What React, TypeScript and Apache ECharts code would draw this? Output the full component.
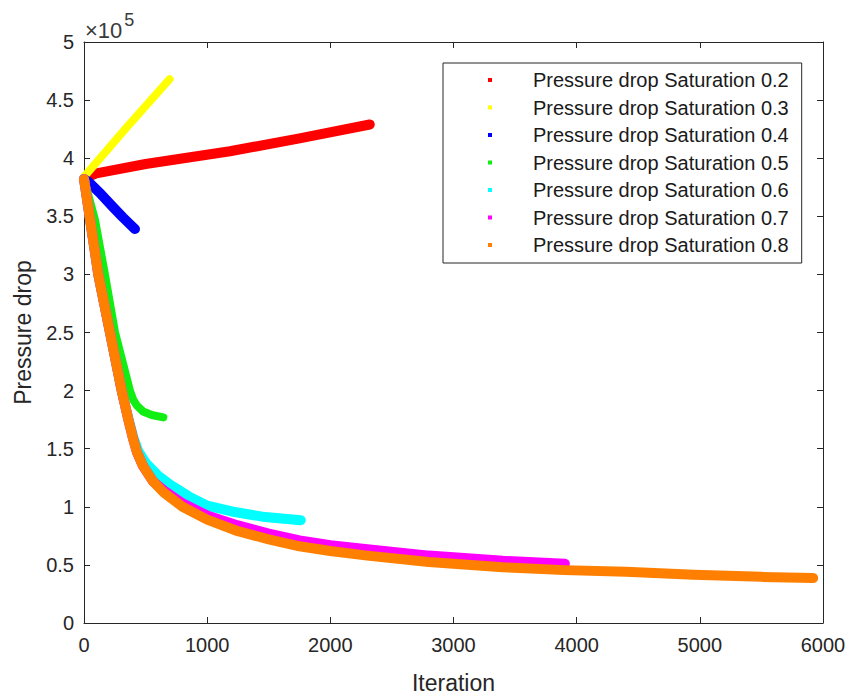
import React, { useEffect, useRef } from 'react';
import * as echarts from 'echarts';

// ---- data (Pressure drop in Pa, iteration) ----
const seriesNames = [
  'Pressure drop Saturation 0.2',
  'Pressure drop Saturation 0.3',
  'Pressure drop Saturation 0.4',
  'Pressure drop Saturation 0.5',
  'Pressure drop Saturation 0.6',
  'Pressure drop Saturation 0.7',
  'Pressure drop Saturation 0.8',
];

const iter02 = [30, 100, 500, 1185, 1750, 2320];
const p02 = [384000, 387000, 395000, 406000, 417000, 429000];

const iter03 = [0, 350, 695];
const p03 = [384000, 427000, 468000];

const iter04 = [0, 32, 130, 235, 317, 414];
const p04 = [382000, 380000, 370000, 358000, 349000, 339000];

const iter05 = [0, 89, 170, 252, 373, 400, 430, 480, 550, 644];
const p05 = [382000, 347000, 300000, 250000, 200000, 192000, 187000, 182000, 179000, 177000];

const iter06 = [0, 116, 211, 306, 360, 400, 440, 500, 600, 700, 850, 1000, 1200, 1450, 1760];
const p06 = [382000, 300000, 250000, 200000, 176000, 160000, 148000, 138000, 127000, 119000, 109000, 101000, 96000, 91500, 88500];

const iter07 = [0, 116, 211, 306, 360, 400, 430, 480, 560, 650, 800, 1000, 1250, 1500, 1750, 2000, 2300, 2800, 3400, 3904];
const p07 = [382000, 300000, 250000, 200000, 175000, 158000, 147000, 135000, 122000, 114000, 103000, 92500, 84000, 77000, 71000, 67000, 63500, 58000, 53500, 51000];

const iter08 = [0, 116, 211, 306, 360, 400, 430, 480, 560, 650, 800, 1000, 1250, 1500, 1750, 2000, 2300, 2800, 3400, 3900, 4400, 4950, 5500, 5920];
const p08 = [382000, 300000, 250000, 200000, 175000, 158000, 147000, 135000, 122000, 112000, 100000, 89000, 79000, 72000, 66000, 62000, 58000, 52500, 48000, 45500, 44000, 41500, 39700, 38700];

const xTicks = { min: 0, max: 6000, interval: 1000 };
const yTicks = { min: 0, max: 500000, interval: 50000 };
const yScale = 100000;
const exponentBase = '×10';
const exponent = '5';

// ---- styles ----
const colors = ['#ff0000', '#ffff00', '#0000ff', '#11ee11', '#00ffff', '#ff00ff', '#ff7f00'];
const widths = [10, 8, 10, 8, 10, 10, 10];
const FONT = '"Liberation Sans", Arial, Helvetica, sans-serif';
const INK = '#262626';

const allIters = [iter02, iter03, iter04, iter05, iter06, iter07, iter08];
const allP = [p02, p03, p04, p05, p06, p07, p08];

export default function App() {
  const ref = useRef<HTMLDivElement>(null);
  useEffect(() => {
    document.body.style.margin = '0';
    const chart = echarts.init(ref.current!, null, { renderer: 'svg' });

    const series = seriesNames.map((name, i) => ({
      name,
      type: 'line',
      data: allIters[i].map((x, k) => [x, allP[i][k]]),
      showSymbol: false,
      symbol: 'none',
      itemStyle: { color: colors[i] },
      lineStyle: { color: colors[i], width: widths[i], cap: 'round', join: 'round' },
      emphasis: { disabled: true },
      z: 2 + i,
    }));

    const axisCommon = {
      axisLine: { show: true, onZero: false, lineStyle: { color: INK, width: 1 } },
      axisTick: { show: true, inside: true, length: 6, lineStyle: { color: INK } },
      splitLine: { show: false },
    };

    chart.setOption({
      animation: false,
      backgroundColor: '#ffffff',
      textStyle: { fontFamily: FONT },
      title: {
        left: 85,
        top: 11,
        padding: 0,
        text: `{a|${exponentBase}}{b|${exponent}}`,
        textStyle: {
          fontFamily: FONT,
          fontWeight: 'normal',
          rich: {
            a: { fontSize: 22, lineHeight: 30, fontWeight: 'normal', color: '#3a3a3a', fontFamily: FONT, verticalAlign: 'bottom' },
            b: { fontSize: 18, lineHeight: 18, fontWeight: 'normal', color: '#3a3a3a', fontFamily: FONT, verticalAlign: 'top', padding: [0, 0, 0, 2] },
          },
        },
      },
      grid: { left: 84, right: 30, top: 42, bottom: 76, containLabel: false },
      xAxis: [
        {
          type: 'value',
          ...xTicks,
          position: 'bottom',
          ...axisCommon,
          axisLabel: {
            color: INK,
            fontSize: 20,
            fontFamily: FONT,
            margin: 12,
            formatter: (v: number) => String(v),
          },
          name: 'Iteration',
          nameLocation: 'middle',
          nameGap: 48,
          nameTextStyle: { color: INK, fontSize: 23, fontFamily: FONT },
        },
        {
          type: 'value',
          ...xTicks,
          position: 'top',
          ...axisCommon,
          axisLabel: { show: false },
        },
      ],
      yAxis: [
        {
          type: 'value',
          ...yTicks,
          position: 'left',
          ...axisCommon,
          axisLabel: {
            color: INK,
            fontSize: 20,
            fontFamily: FONT,
            margin: 10,
            formatter: (v: number) => String(Math.round((v / yScale) * 10) / 10),
          },
          name: 'Pressure drop',
          nameLocation: 'middle',
          nameGap: 50,
          nameRotate: 90,
          nameTextStyle: { color: INK, fontSize: 23, fontFamily: FONT },
        },
        {
          type: 'value',
          ...yTicks,
          position: 'right',
          ...axisCommon,
          axisLabel: { show: false },
        },
      ],
      legend: {
        show: true,
        orient: 'vertical',
        left: 443,
        top: 63,
        data: seriesNames,
        icon: 'rect',
        itemWidth: 4,
        itemHeight: 4,
        itemGap: 7.5,
        padding: [7, 13, 8, 45],
        backgroundColor: '#ffffff',
        borderColor: INK,
        borderWidth: 1,
        borderRadius: 0,
        selectedMode: false,
        textStyle: {
          color: '#1a1a1a',
          fontSize: 20,
          fontFamily: FONT,
          lineHeight: 20,
          padding: [0, 0, 0, 36],
        },
      },
      series,
    });
    return () => chart.dispose();
  }, []);
  return <div ref={ref} style={{ width: 853, height: 699 }} />;
}
